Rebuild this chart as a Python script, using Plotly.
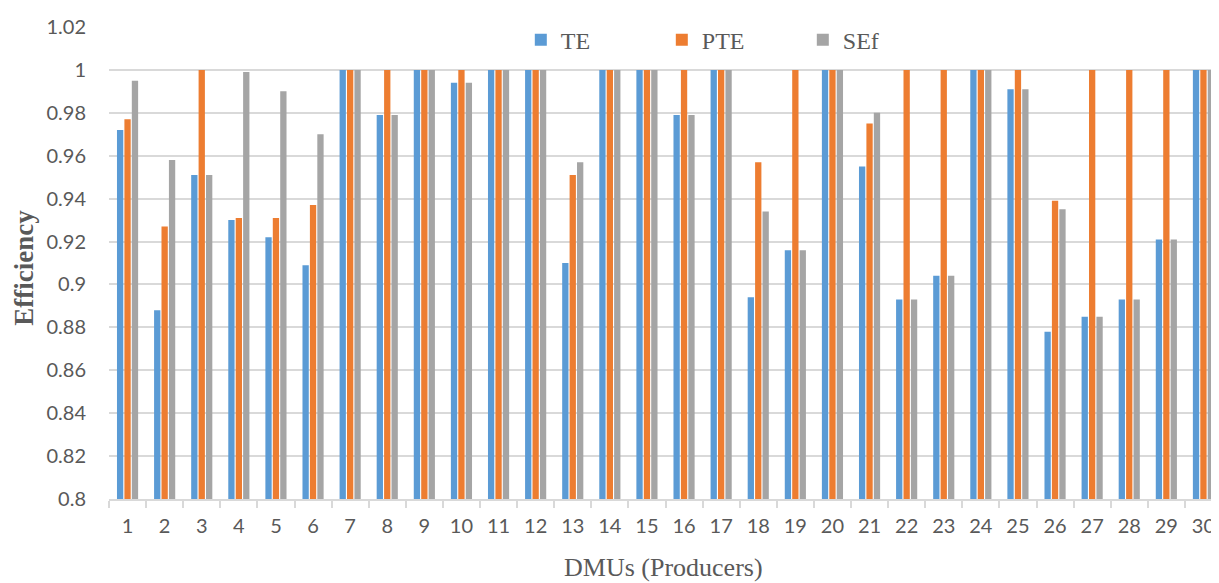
import plotly.graph_objects as go

dmus = [str(i) for i in range(1, 31)]
te = [0.972, 0.888, 0.951, 0.930, 0.922, 0.909, 1.0, 0.979, 1.0, 0.994,
      1.0, 1.0, 0.910, 1.0, 1.0, 0.979, 1.0, 0.894, 0.916, 1.0,
      0.955, 0.893, 0.904, 1.0, 0.991, 0.878, 0.885, 0.893, 0.921, 1.0]
pte = [0.977, 0.927, 1.0, 0.931, 0.931, 0.937, 1.0, 1.0, 1.0, 1.0,
       1.0, 1.0, 0.951, 1.0, 1.0, 1.0, 1.0, 0.957, 1.0, 1.0,
       0.975, 1.0, 1.0, 1.0, 1.0, 0.939, 1.0, 1.0, 1.0, 1.0]
sef = [0.995, 0.958, 0.951, 0.999, 0.990, 0.970, 1.0, 0.979, 1.0, 0.994,
       1.0, 1.0, 0.957, 1.0, 1.0, 0.979, 1.0, 0.934, 0.916, 1.0,
       0.980, 0.893, 0.904, 1.0, 0.991, 0.935, 0.885, 0.893, 0.921, 1.0]
y_ticks = [0.8, 0.82, 0.84, 0.86, 0.88, 0.9, 0.92, 0.94, 0.96, 0.98, 1.0, 1.02]
y_tick_text = ["0.8", "0.82", "0.84", "0.86", "0.88", "0.9", "0.92", "0.94", "0.96", "0.98", "1", "1.02"]

fig = go.Figure()
for name, vals, col in [("TE", te, "#5B9BD5"), ("PTE", pte, "#ED7D31"), ("SEf", sef, "#A5A5A5")]:
    fig.add_trace(go.Bar(x=dmus, y=vals, name=name, marker=dict(color=col, line=dict(width=0))))

# page body has an 8px margin, so the figure is sized to end at the window edge
W, H = 1211, 575
left, top, bottom = 101, 19, 84
plot_w = W - left
plot_h = H - top - bottom
cat_w = 37.1
fig.update_layout(
    width=W, height=H,
    margin=dict(l=left, r=0, t=top, b=bottom),
    paper_bgcolor="white", plot_bgcolor="white",
    barmode="group", bargap=0.4, bargroupgap=0.15,
    font=dict(family="Lato", color="#595959"),
    legend=dict(orientation="h", x=0.371, xanchor="left", y=0.972, yanchor="middle",
                font=dict(family="Liberation Serif", size=24, color="#595959"),
                entrywidth=96, entrywidthmode="pixels", bgcolor="rgba(0,0,0,0)"),
    xaxis=dict(type="category", range=[-0.5, -0.5 + plot_w / cat_w],
               tickson="boundaries", ticks="outside", ticklen=7, tickcolor="#D9D9D9",
               tickwidth=1.5, ticklabelstandoff=8,
               showline=True, linecolor="#D9D9D9", linewidth=1.5, showgrid=False,
               tickfont=dict(family="Lato", size=20, color="#595959")),
    yaxis=dict(range=[0.8, 1.02], tickvals=y_ticks, ticktext=y_tick_text,
               showgrid=True, gridcolor="#D9D9D9", gridwidth=1.5, zeroline=False,
               ticks="", ticklabelstandoff=22,
               tickfont=dict(family="Lato", size=20, color="#595959")),
    annotations=[
        dict(text="Efficiency", xref="paper", yref="paper", x=(16 - left) / plot_w, y=0.49,
             textangle=-90, showarrow=False, xanchor="center", yanchor="middle",
             font=dict(family="Liberation Serif", size=27, color="#595959", weight="bold")),
        dict(text="DMUs (Producers)", xref="paper", yref="paper", x=(655 - left) / plot_w,
             y=-(559 - (H - bottom)) / plot_h,
             showarrow=False, xanchor="center", yanchor="middle",
             font=dict(family="Liberation Serif", size=26, color="#595959")),
    ],
)
fig.write_html("out.html")
